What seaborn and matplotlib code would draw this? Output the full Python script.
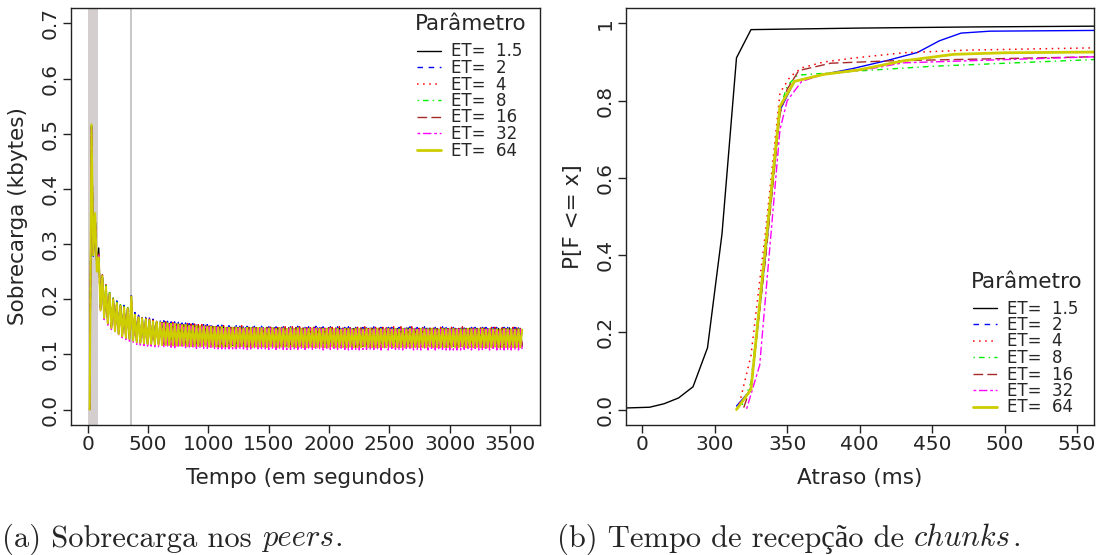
import numpy as np
import matplotlib
matplotlib.use("Agg")
import matplotlib.pyplot as plt
from matplotlib.lines import Line2D
import seaborn as sns

# ---------------------------------------------------------------------------
# (a) Overhead per peer (kbytes), one sample every 15 s
# ---------------------------------------------------------------------------
sample_step_s = 15

sobrecarga_et1_5 = [
    0.000, 0.515, 0.282, 0.350, 0.262, 0.293, 0.185, 0.244, 0.168, 0.225,
    0.158, 0.212, 0.150, 0.202, 0.144, 0.195, 0.139, 0.190, 0.135, 0.186,
    0.132, 0.184, 0.129, 0.200, 0.127, 0.174, 0.124, 0.169, 0.122, 0.166,
    0.121, 0.164, 0.120, 0.162, 0.120, 0.161, 0.119, 0.160, 0.119, 0.140,
    0.157, 0.119, 0.156, 0.119, 0.156, 0.118, 0.155, 0.118, 0.154, 0.118,
    0.154, 0.118, 0.153, 0.117, 0.153, 0.117, 0.152, 0.117, 0.152, 0.117,
    0.151, 0.117, 0.151, 0.117, 0.151, 0.116, 0.150, 0.117, 0.150, 0.116,
    0.150, 0.116, 0.149, 0.116, 0.150, 0.116, 0.149, 0.116, 0.149, 0.116,
    0.149, 0.116, 0.148, 0.116, 0.149, 0.116, 0.148, 0.115, 0.148, 0.116, 0.149, 0.116, 0.148, 0.116, 0.148, 0.115, 0.148, 0.116, 0.149, 0.116,
    0.148, 0.116, 0.148, 0.115, 0.148, 0.116, 0.147, 0.116, 0.148, 0.115, 0.148, 0.116, 0.147, 0.116, 0.148, 0.115, 0.148, 0.116, 0.147, 0.115,
    0.148, 0.116, 0.147, 0.115, 0.148, 0.115, 0.147, 0.116, 0.148, 0.115, 0.147, 0.115, 0.148, 0.116, 0.147, 0.115, 0.147, 0.115, 0.148, 0.115,
    0.147, 0.115, 0.147, 0.116, 0.148, 0.115, 0.147, 0.115, 0.147, 0.115, 0.148, 0.115, 0.147, 0.116, 0.147, 0.115, 0.147, 0.115, 0.148, 0.115,
    0.147, 0.115, 0.147, 0.115, 0.147, 0.116, 0.148, 0.115, 0.147, 0.115, 0.147, 0.115, 0.147, 0.116, 0.147, 0.115, 0.148, 0.115, 0.147, 0.115,
    0.147, 0.115, 0.147, 0.115, 0.148, 0.115, 0.147, 0.116, 0.147, 0.115, 0.147, 0.115, 0.147, 0.115, 0.148, 0.115, 0.147, 0.115, 0.147, 0.116,
    0.147, 0.115, 0.147, 0.115, 0.147, 0.115, 0.148, 0.115, 0.147, 0.115, 0.147, 0.116, 0.147, 0.115, 0.147, 0.115, 0.147, 0.115, 0.148, 0.115,
    0.147, 0.115, 0.147, 0.115, 0.147, 0.116, 0.147, 0.115, 0.147, 0.115, 0.147, 0.115, 0.148, 0.115, 0.147, 0.115, 0.147, 0.115, 0.147, 0.115,
]

sobrecarga_et2 = [
    0.000, 0.516, 0.278, 0.354, 0.252, 0.280, 0.182, 0.246, 0.168, 0.227,
    0.158, 0.214, 0.150, 0.204, 0.144, 0.197, 0.139, 0.192, 0.135, 0.189,
    0.132, 0.187, 0.130, 0.212, 0.127, 0.176, 0.124, 0.171, 0.123, 0.168,
    0.122, 0.167, 0.121, 0.166, 0.121, 0.164, 0.120, 0.163, 0.120, 0.162,
    0.119, 0.161, 0.119, 0.160, 0.119, 0.159, 0.118, 0.159, 0.118, 0.158,
    0.118, 0.157, 0.118, 0.157, 0.117, 0.156, 0.117, 0.156, 0.117, 0.155,
    0.117, 0.155, 0.117, 0.154, 0.117, 0.154, 0.116, 0.154, 0.116, 0.153,
    0.116, 0.153, 0.116, 0.153, 0.116, 0.152, 0.116, 0.152, 0.116, 0.152,
    0.116, 0.152, 0.116, 0.151, 0.116, 0.152, 0.116, 0.151, 0.115, 0.151, 0.116, 0.151, 0.116, 0.152, 0.115, 0.151, 0.116, 0.151, 0.116, 0.150,
    0.115, 0.151, 0.116, 0.150, 0.116, 0.151, 0.115, 0.150, 0.116, 0.151, 0.116, 0.150, 0.115, 0.150, 0.116, 0.151, 0.115, 0.150, 0.116, 0.150,
    0.115, 0.150, 0.116, 0.150, 0.115, 0.151, 0.115, 0.150, 0.116, 0.150, 0.115, 0.150, 0.115, 0.150, 0.116, 0.149, 0.115, 0.150, 0.115, 0.150,
    0.115, 0.149, 0.116, 0.150, 0.115, 0.150, 0.115, 0.149, 0.115, 0.150, 0.116, 0.149, 0.115, 0.150, 0.115, 0.149, 0.115, 0.150, 0.115, 0.149,
    0.115, 0.149, 0.115, 0.150, 0.116, 0.149, 0.115, 0.149, 0.115, 0.150, 0.115, 0.149, 0.115, 0.149, 0.116, 0.149, 0.115, 0.150, 0.115, 0.149,
    0.115, 0.149, 0.115, 0.149, 0.115, 0.150, 0.115, 0.149, 0.116, 0.149, 0.115, 0.149, 0.115, 0.149, 0.115, 0.150, 0.115, 0.149, 0.115, 0.149,
    0.115, 0.149, 0.116, 0.149, 0.115, 0.149, 0.115, 0.148, 0.115, 0.149, 0.115, 0.149, 0.115, 0.149, 0.116, 0.148, 0.115, 0.149, 0.115, 0.149,
    0.115, 0.148, 0.115, 0.149, 0.115, 0.149, 0.115, 0.148, 0.115, 0.149, 0.116, 0.149, 0.115, 0.148, 0.115, 0.149, 0.115, 0.148, 0.115, 0.149,
]

sobrecarga_et4 = [
    0.000, 0.512, 0.284, 0.352, 0.255, 0.278, 0.183, 0.245, 0.168, 0.226,
    0.158, 0.213, 0.150, 0.203, 0.144, 0.196, 0.139, 0.191, 0.135, 0.188,
    0.132, 0.186, 0.129, 0.208, 0.126, 0.175, 0.123, 0.170, 0.122, 0.167,
    0.121, 0.165, 0.120, 0.164, 0.119, 0.162, 0.119, 0.161, 0.118, 0.139,
    0.160, 0.118, 0.159, 0.118, 0.159, 0.117, 0.158, 0.117, 0.157, 0.117,
    0.157, 0.117, 0.156, 0.116, 0.156, 0.116, 0.155, 0.116, 0.155, 0.116,
    0.154, 0.116, 0.154, 0.116, 0.154, 0.115, 0.153, 0.116, 0.153, 0.115,
    0.153, 0.115, 0.152, 0.115, 0.152, 0.115, 0.152, 0.115, 0.151, 0.115,
    0.151, 0.115, 0.151, 0.115, 0.152, 0.115, 0.151, 0.114, 0.151, 0.115, 0.151, 0.115, 0.150, 0.115, 0.151, 0.114, 0.151, 0.115, 0.150, 0.115,
    0.151, 0.115, 0.150, 0.114, 0.150, 0.115, 0.151, 0.115, 0.150, 0.114, 0.150, 0.115, 0.150, 0.115, 0.151, 0.114, 0.150, 0.115, 0.150, 0.114,
    0.150, 0.115, 0.150, 0.114, 0.151, 0.114, 0.150, 0.115, 0.150, 0.114, 0.150, 0.114, 0.150, 0.115, 0.149, 0.114, 0.150, 0.114, 0.150, 0.115,
    0.150, 0.114, 0.149, 0.114, 0.150, 0.115, 0.150, 0.114, 0.149, 0.114, 0.150, 0.114, 0.150, 0.115, 0.149, 0.114, 0.150, 0.114, 0.149, 0.114,
    0.150, 0.114, 0.149, 0.115, 0.150, 0.114, 0.149, 0.114, 0.150, 0.114, 0.149, 0.114, 0.150, 0.115, 0.149, 0.114, 0.149, 0.114, 0.150, 0.114,
    0.149, 0.114, 0.149, 0.114, 0.150, 0.115, 0.149, 0.114, 0.149, 0.114, 0.150, 0.114, 0.149, 0.114, 0.149, 0.115, 0.149, 0.114, 0.150, 0.114,
    0.149, 0.114, 0.149, 0.114, 0.149, 0.115, 0.150, 0.114, 0.149, 0.114, 0.149, 0.114, 0.149, 0.115, 0.149, 0.114, 0.150, 0.114, 0.149, 0.114,
    0.149, 0.114, 0.149, 0.115, 0.149, 0.114, 0.149, 0.114, 0.150, 0.114, 0.149, 0.114, 0.149, 0.114, 0.149, 0.115, 0.149, 0.114, 0.149, 0.114,
]

sobrecarga_et8 = [
    0.000, 0.514, 0.279, 0.355, 0.251, 0.277, 0.181, 0.243, 0.167, 0.225,
    0.157, 0.212, 0.149, 0.202, 0.143, 0.195, 0.138, 0.190, 0.134, 0.187,
    0.131, 0.185, 0.129, 0.204, 0.126, 0.173, 0.123, 0.168, 0.122, 0.166,
    0.121, 0.164, 0.120, 0.163, 0.120, 0.161, 0.119, 0.160, 0.119, 0.159,
    0.118, 0.158, 0.118, 0.157, 0.118, 0.156, 0.117, 0.156, 0.117, 0.155,
    0.117, 0.154, 0.117, 0.154, 0.116, 0.153, 0.116, 0.153, 0.116, 0.152,
    0.116, 0.152, 0.116, 0.151, 0.116, 0.151, 0.115, 0.151, 0.115, 0.150,
    0.115, 0.150, 0.115, 0.150, 0.115, 0.149, 0.115, 0.149, 0.115, 0.149,
    0.115, 0.149, 0.115, 0.149, 0.116, 0.148, 0.115, 0.149, 0.115, 0.148, 0.114, 0.148, 0.115, 0.149, 0.115, 0.148, 0.115, 0.148, 0.114, 0.148,
    0.115, 0.148, 0.115, 0.147, 0.114, 0.148, 0.115, 0.148, 0.115, 0.147, 0.114, 0.148, 0.115, 0.147, 0.114, 0.148, 0.115, 0.147, 0.114, 0.147,
    0.114, 0.147, 0.115, 0.148, 0.114, 0.147, 0.114, 0.147, 0.115, 0.147, 0.114, 0.147, 0.114, 0.148, 0.115, 0.147, 0.114, 0.147, 0.114, 0.146,
    0.114, 0.147, 0.114, 0.147, 0.115, 0.146, 0.114, 0.147, 0.114, 0.147, 0.114, 0.146, 0.115, 0.147, 0.114, 0.147, 0.114, 0.146, 0.114, 0.147,
    0.114, 0.147, 0.114, 0.146, 0.114, 0.147, 0.115, 0.146, 0.114, 0.147, 0.114, 0.146, 0.114, 0.147, 0.114, 0.146, 0.115, 0.147, 0.114, 0.146,
    0.114, 0.146, 0.114, 0.147, 0.114, 0.146, 0.114, 0.146, 0.115, 0.147, 0.114, 0.146, 0.114, 0.146, 0.114, 0.147, 0.114, 0.146, 0.114, 0.146,
    0.114, 0.147, 0.114, 0.146, 0.114, 0.146, 0.115, 0.146, 0.114, 0.147, 0.114, 0.146, 0.114, 0.146, 0.114, 0.146, 0.114, 0.147, 0.114, 0.146,
    0.114, 0.146, 0.114, 0.146, 0.115, 0.146, 0.114, 0.146, 0.114, 0.147, 0.114, 0.146, 0.114, 0.146, 0.114, 0.146, 0.114, 0.146, 0.114, 0.146,
]

sobrecarga_et16 = [
    0.000, 0.513, 0.281, 0.353, 0.256, 0.282, 0.182, 0.244, 0.167, 0.224,
    0.157, 0.211, 0.149, 0.201, 0.143, 0.194, 0.138, 0.189, 0.134, 0.186,
    0.131, 0.184, 0.128, 0.203, 0.125, 0.173, 0.122, 0.168, 0.121, 0.166,
    0.120, 0.164, 0.119, 0.162, 0.119, 0.161, 0.118, 0.159, 0.118, 0.138,
    0.158, 0.117, 0.157, 0.117, 0.157, 0.117, 0.156, 0.116, 0.155, 0.116,
    0.155, 0.116, 0.154, 0.116, 0.154, 0.115, 0.153, 0.115, 0.153, 0.115,
    0.152, 0.115, 0.152, 0.115, 0.152, 0.115, 0.151, 0.114, 0.151, 0.115,
    0.151, 0.114, 0.150, 0.114, 0.150, 0.114, 0.150, 0.114, 0.149, 0.114,
    0.149, 0.114, 0.149, 0.114, 0.150, 0.114, 0.149, 0.113, 0.149, 0.114, 0.149, 0.114, 0.148, 0.114, 0.149, 0.113, 0.149, 0.114, 0.148, 0.114,
    0.149, 0.114, 0.148, 0.113, 0.148, 0.114, 0.149, 0.114, 0.148, 0.113, 0.148, 0.114, 0.148, 0.114, 0.149, 0.113, 0.148, 0.114, 0.148, 0.113,
    0.148, 0.114, 0.148, 0.113, 0.149, 0.113, 0.148, 0.114, 0.148, 0.113, 0.148, 0.113, 0.148, 0.114, 0.147, 0.113, 0.148, 0.113, 0.148, 0.114,
    0.148, 0.113, 0.147, 0.113, 0.148, 0.114, 0.148, 0.113, 0.147, 0.113, 0.148, 0.113, 0.148, 0.114, 0.147, 0.113, 0.148, 0.113, 0.147, 0.113,
    0.148, 0.113, 0.147, 0.114, 0.148, 0.113, 0.147, 0.113, 0.148, 0.113, 0.147, 0.113, 0.148, 0.114, 0.147, 0.113, 0.147, 0.113, 0.148, 0.113,
    0.147, 0.113, 0.147, 0.113, 0.148, 0.114, 0.147, 0.113, 0.147, 0.113, 0.148, 0.113, 0.147, 0.113, 0.147, 0.114, 0.147, 0.113, 0.148, 0.113,
    0.147, 0.113, 0.147, 0.113, 0.147, 0.114, 0.148, 0.113, 0.147, 0.113, 0.147, 0.113, 0.147, 0.114, 0.147, 0.113, 0.148, 0.113, 0.147, 0.113,
    0.147, 0.113, 0.147, 0.114, 0.147, 0.113, 0.147, 0.113, 0.148, 0.113, 0.147, 0.113, 0.147, 0.113, 0.147, 0.114, 0.147, 0.113, 0.147, 0.113,
]

sobrecarga_et32 = [
    0.000, 0.511, 0.283, 0.351, 0.258, 0.279, 0.178, 0.240, 0.163, 0.221,
    0.153, 0.208, 0.145, 0.198, 0.139, 0.191, 0.134, 0.186, 0.130, 0.183,
    0.127, 0.181, 0.124, 0.202, 0.121, 0.170, 0.118, 0.165, 0.117, 0.163,
    0.116, 0.161, 0.115, 0.160, 0.115, 0.158, 0.114, 0.157, 0.114, 0.135,
    0.156, 0.113, 0.155, 0.113, 0.155, 0.113, 0.154, 0.112, 0.153, 0.112,
    0.153, 0.112, 0.152, 0.112, 0.152, 0.111, 0.151, 0.111, 0.151, 0.111,
    0.150, 0.111, 0.150, 0.111, 0.150, 0.111, 0.149, 0.110, 0.149, 0.111,
    0.149, 0.110, 0.148, 0.110, 0.148, 0.110, 0.148, 0.110, 0.147, 0.110,
    0.147, 0.110, 0.147, 0.110, 0.148, 0.110, 0.147, 0.109, 0.147, 0.110, 0.147, 0.110, 0.146, 0.110, 0.147, 0.109, 0.147, 0.110, 0.146, 0.109,
    0.147, 0.109, 0.146, 0.109, 0.146, 0.110, 0.147, 0.109, 0.146, 0.109, 0.146, 0.109, 0.146, 0.110, 0.147, 0.109, 0.146, 0.109, 0.146, 0.109,
    0.146, 0.109, 0.146, 0.109, 0.147, 0.109, 0.146, 0.109, 0.146, 0.108, 0.146, 0.109, 0.146, 0.109, 0.146, 0.108, 0.146, 0.109, 0.146, 0.109,
    0.146, 0.109, 0.146, 0.108, 0.146, 0.109, 0.146, 0.109, 0.146, 0.108, 0.146, 0.109, 0.146, 0.109, 0.145, 0.108, 0.146, 0.109, 0.146, 0.108,
    0.146, 0.108, 0.145, 0.109, 0.146, 0.108, 0.146, 0.108, 0.146, 0.109, 0.145, 0.108, 0.146, 0.108, 0.146, 0.108, 0.145, 0.109, 0.146, 0.108,
    0.146, 0.108, 0.145, 0.108, 0.146, 0.109, 0.145, 0.108, 0.146, 0.108, 0.145, 0.108, 0.146, 0.108, 0.145, 0.109, 0.146, 0.108, 0.145, 0.108,
    0.145, 0.108, 0.146, 0.108, 0.145, 0.108, 0.146, 0.109, 0.145, 0.108, 0.145, 0.108, 0.146, 0.108, 0.145, 0.108, 0.145, 0.109, 0.145, 0.108,
    0.146, 0.108, 0.145, 0.108, 0.145, 0.108, 0.145, 0.109, 0.145, 0.108, 0.145, 0.108, 0.146, 0.108, 0.145, 0.108, 0.145, 0.108, 0.145, 0.108,
]

sobrecarga_et64 = [
    0.000, 0.517, 0.280, 0.356, 0.250, 0.276, 0.180, 0.242, 0.166, 0.223,
    0.156, 0.210, 0.148, 0.200, 0.142, 0.193, 0.137, 0.188, 0.133, 0.185,
    0.130, 0.183, 0.128, 0.205, 0.125, 0.172, 0.122, 0.167, 0.121, 0.165,
    0.120, 0.163, 0.119, 0.162, 0.119, 0.160, 0.118, 0.159, 0.118, 0.158,
    0.117, 0.157, 0.117, 0.156, 0.117, 0.155, 0.116, 0.155, 0.116, 0.154,
    0.116, 0.153, 0.116, 0.153, 0.115, 0.152, 0.115, 0.152, 0.115, 0.151,
    0.115, 0.151, 0.115, 0.150, 0.115, 0.150, 0.114, 0.150, 0.114, 0.149,
    0.114, 0.149, 0.114, 0.149, 0.114, 0.148, 0.114, 0.148, 0.114, 0.148,
    0.114, 0.148, 0.114, 0.148, 0.115, 0.147, 0.114, 0.148, 0.114, 0.147, 0.113, 0.147, 0.114, 0.148, 0.114, 0.147, 0.114, 0.147, 0.113, 0.147,
    0.114, 0.147, 0.114, 0.146, 0.113, 0.147, 0.114, 0.147, 0.114, 0.146, 0.113, 0.147, 0.114, 0.146, 0.113, 0.147, 0.114, 0.146, 0.113, 0.146,
    0.113, 0.146, 0.114, 0.147, 0.113, 0.146, 0.113, 0.146, 0.114, 0.146, 0.113, 0.146, 0.113, 0.147, 0.114, 0.146, 0.113, 0.146, 0.113, 0.145,
    0.113, 0.146, 0.113, 0.146, 0.114, 0.145, 0.113, 0.146, 0.113, 0.146, 0.113, 0.145, 0.114, 0.146, 0.113, 0.146, 0.113, 0.145, 0.113, 0.146,
    0.113, 0.146, 0.113, 0.145, 0.113, 0.146, 0.114, 0.145, 0.113, 0.146, 0.113, 0.145, 0.113, 0.146, 0.113, 0.145, 0.114, 0.146, 0.113, 0.145,
    0.113, 0.145, 0.113, 0.146, 0.113, 0.145, 0.113, 0.145, 0.114, 0.146, 0.113, 0.145, 0.113, 0.145, 0.113, 0.146, 0.113, 0.145, 0.113, 0.145,
    0.113, 0.146, 0.113, 0.145, 0.113, 0.145, 0.114, 0.145, 0.113, 0.146, 0.113, 0.145, 0.113, 0.145, 0.113, 0.145, 0.113, 0.146, 0.113, 0.145,
    0.113, 0.145, 0.113, 0.145, 0.114, 0.145, 0.113, 0.145, 0.113, 0.146, 0.113, 0.145, 0.113, 0.145, 0.113, 0.145, 0.113, 0.145, 0.113, 0.145,
]

# warm-up window (s) and the instant of the second disturbance (s)
janela_inicial = (0, 80)
instante_marcado = 357

# ---------------------------------------------------------------------------
# (b) CDF of chunk reception delay (ms)
# ---------------------------------------------------------------------------
atraso_et1_5 = [238, 255, 265, 275, 285, 295, 305, 315, 325, 400, 480, 565]
cdf_et1_5 = [0.004, 0.006, 0.015, 0.030, 0.059, 0.160, 0.455, 0.911, 0.984, 0.988, 0.991, 0.993]

atraso_et2 = [315, 325, 335, 345, 355, 375, 395, 420, 440, 455, 470, 490, 565]
cdf_et2 = [0.009, 0.052, 0.400, 0.775, 0.850, 0.868, 0.883, 0.905, 0.925, 0.955, 0.975, 0.980, 0.982]

atraso_et4 = [317, 325, 335, 345, 352, 360, 375, 395, 430, 475, 565]
cdf_et4 = [0.015, 0.140, 0.460, 0.820, 0.862, 0.885, 0.900, 0.910, 0.924, 0.931, 0.937]

atraso_et8 = [319, 325, 335, 345, 350, 357, 395, 450, 565]
cdf_et8 = [0.012, 0.070, 0.430, 0.780, 0.838, 0.866, 0.876, 0.889, 0.907]

atraso_et16 = [320, 325, 335, 345, 350, 358, 380, 420, 565]
cdf_et16 = [0.005, 0.060, 0.390, 0.765, 0.830, 0.878, 0.897, 0.903, 0.914]

atraso_et32 = [322, 331, 345, 350, 360, 375, 405, 430, 565]
cdf_et32 = [0.002, 0.115, 0.725, 0.800, 0.850, 0.868, 0.881, 0.898, 0.914]

atraso_et64 = [315, 325, 335, 345, 355, 375, 400, 430, 465, 500, 565]
cdf_et64 = [0.000, 0.052, 0.420, 0.785, 0.850, 0.868, 0.880, 0.903, 0.920, 0.924, 0.926]

# the first tick of the delay axis stands for the origin of a broken axis
atraso_ticks = [250, 300, 350, 400, 450, 500, 550]
atraso_tick_labels = ["0", "300", "350", "400", "450", "500", "550"]

legend_labels = ["ET=  1.5", "ET=  2", "ET=  4", "ET=  8", "ET=  16", "ET=  32", "ET=  64"]

# ---------------------------------------------------------------------------
# styling
# ---------------------------------------------------------------------------
colors = ["#000000", "#0000ff", "#ff0000", "#00ee00", "#a52a2a", "#ff00ff", "#cdcd00"]
line_styles = ["-", (0, (4, 4)), (0, (1, 3)), (0, (1, 3, 4, 3)), (0, (7, 3)),
               (0, (2, 2, 6, 2)), "-"]
# the ET=2 delay curve is dense enough that it renders as a continuous stroke
line_styles_b = ["-", "-", (0, (1, 3)), (0, (1, 3, 4, 3)), (0, (7, 3)),
                 (0, (2, 2, 6, 2)), "-"]
line_widths_a = [1.0, 1.0, 1.1, 1.0, 1.0, 1.0, 1.5]
line_widths_b = [1.0, 1.0, 1.1, 1.0, 1.0, 1.0, 2.0]
legend_widths = [1.0, 1.0, 1.1, 1.0, 1.0, 1.0, 2.0]

sns.set_theme(style="ticks")
plt.rcParams["font.family"] = ["DejaVu Sans"]
plt.rcParams["axes.edgecolor"] = "#222222"
plt.rcParams["axes.linewidth"] = 1.0

W, H = 1098, 555
fig = plt.figure(figsize=(W / 100, H / 100), dpi=100)
fig.patch.set_facecolor("white")


def axes_at(left, top, right, bottom):
    return fig.add_axes([left / W, 1 - bottom / H, (right - left) / W, (bottom - top) / H])


ax1 = axes_at(70.5, 8, 539.5, 425)
ax2 = axes_at(625.5, 8, 1094.4, 425)

TICK_SIZE = 14.5
LABEL_SIZE = 15.5

# ---- panel (a) ----
ax1.axvspan(*janela_inicial, color="#d4cecf", lw=0, zorder=0)
ax1.axvline(instante_marcado, color="#bdbdbd", lw=1.2, zorder=0.5)

series_a = [sobrecarga_et1_5, sobrecarga_et2, sobrecarga_et4, sobrecarga_et8,
            sobrecarga_et16, sobrecarga_et32, sobrecarga_et64]
for vals, c, ls, lw in zip(series_a, colors, line_styles, line_widths_a):
    tempo = sample_step_s * np.arange(1, len(vals) + 1)
    sns.lineplot(x=tempo, y=vals, ax=ax1, color=c, linestyle=ls, linewidth=lw,
                 sort=False, estimator=None)

ax1.set_xlim(-144, 3744)
ax1.set_ylim(-0.028, 0.728)
ax1.set_xticks(np.arange(0, 3501, 500))
ax1.set_yticks(np.arange(0, 0.71, 0.1))
ax1.set_yticklabels([f"{v:.1f}" for v in np.arange(0, 0.71, 0.1)])
ax1.set_xlabel("Tempo (em segundos)", fontsize=LABEL_SIZE)
ax1.set_ylabel("Sobrecarga (kbytes)", fontsize=LABEL_SIZE)

# ---- panel (b) ----
series_b = [(atraso_et1_5, cdf_et1_5), (atraso_et2, cdf_et2), (atraso_et4, cdf_et4),
            (atraso_et8, cdf_et8), (atraso_et16, cdf_et16), (atraso_et32, cdf_et32),
            (atraso_et64, cdf_et64)]
for (xs, ys), c, ls, lw in zip(series_b, colors, line_styles_b, line_widths_b):
    sns.lineplot(x=xs, y=ys, ax=ax2, color=c, linestyle=ls, linewidth=lw,
                 sort=False, estimator=None)

ax2.set_xlim(238.4, 562)
ax2.set_ylim(-0.04, 1.04)
ax2.set_xticks(atraso_ticks)
ax2.set_xticklabels(atraso_tick_labels)
ax2.set_yticks([0, 0.2, 0.4, 0.6, 0.8, 1.0])
ax2.set_yticklabels(["0.0", "0.2", "0.4", "0.6", "0.8", "1"])
ax2.set_xlabel("Atraso (ms)", fontsize=LABEL_SIZE)
ax2.set_ylabel("P[F <= x]", fontsize=LABEL_SIZE)

for ax in (ax1, ax2):
    ax.tick_params(axis="both", direction="out", length=6, width=1.0,
                   labelsize=TICK_SIZE, color="#222222")
    ax.tick_params(axis="x", pad=1.5)
    ax.tick_params(axis="y", pad=1.5)
    for lab in ax.get_yticklabels():
        lab.set_rotation(90)
        lab.set_va("center")
    for s in ax.spines.values():
        s.set_visible(True)
        s.set_color("#222222")
    ax.xaxis.set_label_coords(0.5, (425 - 478) / 417)
    ax.xaxis.label.set_va("center")
    ax.yaxis.set_label_coords((18 - 70.5) / 469, 0.5)
    ax.yaxis.label.set_va("center")


def add_legend(ax, title_xy, entry_xy):
    handles = [Line2D([], [], color=c, linestyle=ls, linewidth=lw)
               for c, ls, lw in zip(colors, line_styles, legend_widths)]
    fig.text(title_xy[0] / W, 1 - title_xy[1] / H, "Parâmetro",
             fontsize=15.5, ha="left", va="center")
    ax.legend(handles, legend_labels, loc="upper left",
              bbox_to_anchor=(entry_xy[0] / W, 1 - entry_xy[1] / H),
              bbox_transform=fig.transFigure, frameon=False, fontsize=12,
              labelspacing=-0.09, handlelength=1.45, handletextpad=0.6,
              borderpad=0, borderaxespad=0)


add_legend(ax1, (415, 24), (417, 42.5))
add_legend(ax2, (971, 282), (972.5, 299.5))

# ---- sub-figure captions (Computer Modern, Times fallback for accents) ----
CAP_SIZE = 22
CAP_BASE = 546.5
CAP_PX = CAP_SIZE * 100 / 72
renderer = fig.canvas.get_renderer()
ROMAN = ["cmr10", "Liberation Serif"]
ITALIC = ["cmmi10", "Liberation Serif"]


def caption(x_px, parts):
    x = x_px
    for txt, fam, gap in parts:
        t = fig.text(x / W, 1 - CAP_BASE / H, txt, fontfamily=fam, fontsize=CAP_SIZE,
                     ha="left", va="baseline")
        x += t.get_window_extent(renderer).width + gap * CAP_PX


caption(2, [("(a) Sobrecarga nos", ROMAN, 0.33),
            ("peers", ITALIC, 0.03),
            (".", ROMAN, 0)])
caption(557, [("(b) Tempo de recepção de", ROMAN, 0.33),
              ("chunks", ITALIC, 0.03),
              (".", ROMAN, 0)])

fig.savefig("out.png", dpi=100, facecolor="white")
